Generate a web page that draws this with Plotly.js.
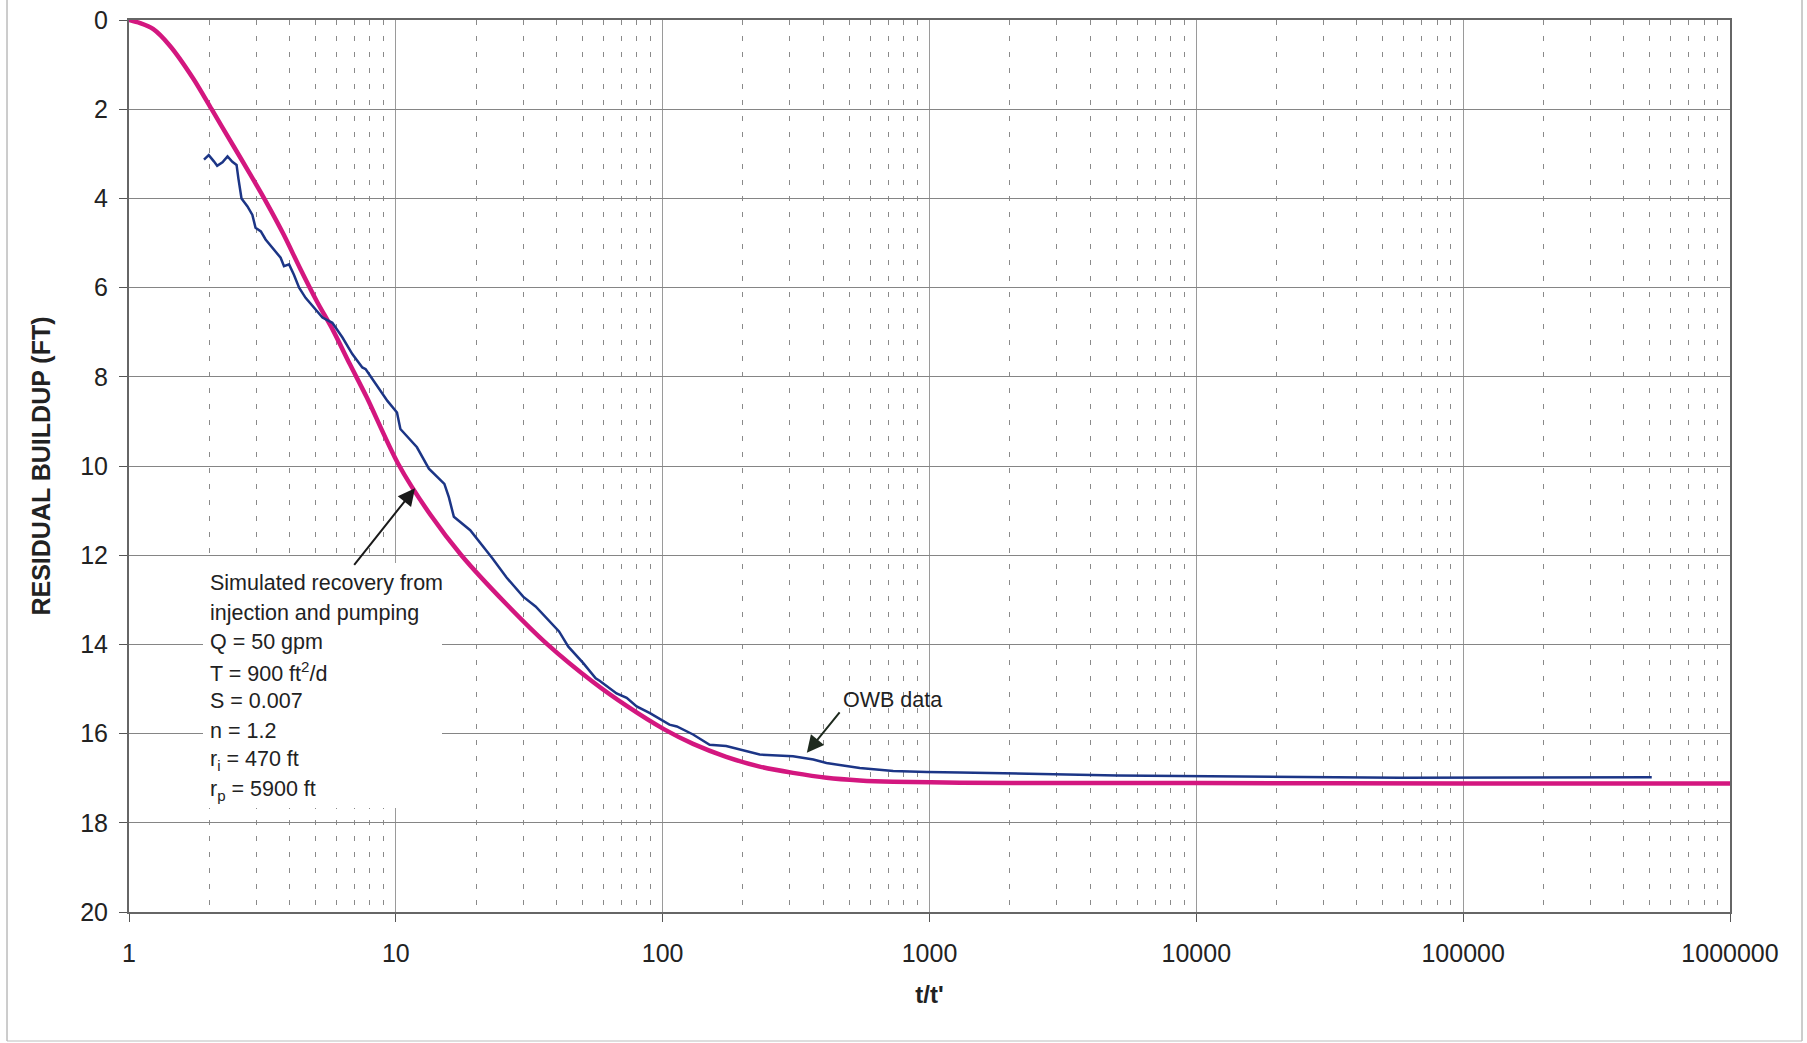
<!DOCTYPE html>
<html>
<head>
<meta charset="utf-8">
<script src="https://cdn.plot.ly/plotly-3.0.1.min.js"></script>
<style>
  html, body { margin: 0; padding: 0; background: #ffffff; }
  #chart { width: 1807px; height: 1043px; }
</style>
</head>
<body>
<div id="chart"></div>
<script>
// ---- Simulated recovery (magenta curve) ----
var simT = [1, 1.1, 1.23, 1.42, 1.74, 2.04, 2.46, 2.84, 3.28, 3.79, 4.37, 5.05, 5.83, 6.73, 7.78, 10.2, 13.5, 17.6, 26, 37, 55, 73.3, 101, 130, 173, 231, 308, 411, 548, 731, 1300, 3000, 10000, 100000, 1000000];
var simRes = [0, 0.07, 0.2, 0.57, 1.31, 2.0, 2.82, 3.45, 4.1, 4.8, 5.56, 6.30, 6.97, 7.72, 8.46, 9.95, 11.1, 12.0, 13.1, 14.0, 14.85, 15.38, 15.9, 16.23, 16.52, 16.74, 16.88, 16.99, 17.05, 17.08, 17.10, 17.11, 17.11, 17.12, 17.12];

// ---- OWB data (blue curve) ----
var owbT = [1.91, 1.99, 2.08, 2.14, 2.24, 2.34, 2.44, 2.53, 2.57, 2.64, 2.78, 2.90, 2.98, 3.12, 3.25, 3.44, 3.70, 3.81, 3.98, 4.15, 4.34, 4.59, 4.94, 5.31, 5.78, 6.31, 6.87, 7.49, 7.71, 8.41, 9.3, 10.1, 10.4, 12.0, 13.3, 15.2, 15.8, 16.5, 19.0, 23.0, 26.0, 30.0, 33.4, 40.9, 44.3, 50.4, 56.1, 58.2, 67.2, 73.3, 79.9, 89.6, 106, 113, 130, 150, 173, 231, 308, 367, 411, 548, 731, 976, 1300, 5040, 58000, 509000];
var owbRes = [3.13, 3.03, 3.17, 3.27, 3.19, 3.06, 3.18, 3.25, 3.55, 4.0, 4.18, 4.37, 4.66, 4.74, 4.92, 5.11, 5.33, 5.52, 5.48, 5.71, 6.0, 6.23, 6.45, 6.67, 6.79, 7.12, 7.49, 7.79, 7.83, 8.16, 8.54, 8.80, 9.17, 9.58, 10.06, 10.4, 10.7, 11.14, 11.44, 12.07, 12.5, 12.93, 13.15, 13.71, 14.05, 14.42, 14.76, 14.82, 15.1, 15.2, 15.39, 15.54, 15.80, 15.84, 16.02, 16.25, 16.28, 16.47, 16.51, 16.58, 16.66, 16.77, 16.84, 16.86, 16.87, 16.94, 16.99, 16.98];

// ---- Axis ticks ----
var xTickVals = [1, 10, 100, 1000, 10000, 100000, 1000000];
var xTickText = ['1', '10', '100', '1000', '10000', '100000', '1000000'];
var yTickVals = [0, 2, 4, 6, 8, 10, 12, 14, 16, 18, 20];

// ---- Text ----
var noteLines = [
  'Simulated recovery from',
  'injection and pumping',
  'Q = 50 gpm',
  'T = 900 ft<sup>2</sup>/d',
  'S = 0.007',
  'n = 1.2',
  'r<sub>i</sub> = 470 ft',
  'r<sub>p</sub> = 5900 ft'
];
var owbLabel = 'OWB data';

var FONT = '"Liberation Sans", Arial, Helvetica, sans-serif';

var traces = [
  {
    x: simT, y: simRes, type: 'scatter', mode: 'lines',
    line: { color: '#d3177f', width: 4.5, shape: 'spline', smoothing: 0.8 },
    hoverinfo: 'skip', showlegend: false
  },
  {
    x: owbT, y: owbRes, type: 'scatter', mode: 'lines',
    line: { color: '#1c3586', width: 2.5 },
    hoverinfo: 'skip', showlegend: false
  }
];

// plot geometry helpers (paper units)
var plotTopPx = 20, plotBotPx = 912, plotLeftPx = 129, plotRightPx = 1730;
function py(px) { return 1 - (px - plotTopPx) / (plotBotPx - plotTopPx); }
function pxX(px) { return (px - plotLeftPx) / (plotRightPx - plotLeftPx); }

var annotations = [];
// white box behind the parameter text (hides grid)
annotations.push({
  xref: 'paper', yref: 'paper', x: pxX(322.5), y: py(685.5),
  xanchor: 'center', yanchor: 'middle', showarrow: false,
  text: ' ', width: 239, height: 245, bgcolor: '#ffffff', borderpad: 0, borderwidth: 0
});
var lineY = [583, 612.5, 642, 671.5, 701, 730.5, 760, 790];
for (var i = 0; i < noteLines.length; i++) {
  annotations.push({
    xref: 'paper', yref: 'paper', x: pxX(208), y: py(lineY[i]),
    xanchor: 'left', yanchor: 'middle', showarrow: false,
    text: noteLines[i], align: 'left',
    font: { family: FONT, size: 21.5, color: '#222' }
  });
}
// arrow to simulated curve
annotations.push({
  xref: 'x', yref: 'y', x: Math.log10(11.8), y: 10.5,
  axref: 'pixel', ayref: 'pixel', ax: -62, ay: 78,
  text: '', showarrow: true, arrowhead: 2, arrowsize: 1.7, arrowwidth: 2, arrowcolor: '#1a1a1a'
});
// OWB label + arrow
annotations.push({
  xref: 'paper', yref: 'paper', x: pxX(892), y: py(700),
  xanchor: 'center', yanchor: 'middle', showarrow: false,
  text: owbLabel, font: { family: FONT, size: 21.5, color: '#222' }
});
annotations.push({
  xref: 'x', yref: 'y', x: Math.log10(347), y: 16.43,
  axref: 'pixel', ayref: 'pixel', ax: 34, ay: -42,
  text: '', showarrow: true, arrowhead: 2, arrowsize: 1.7, arrowwidth: 2, arrowcolor: '#1e2a1e'
});

var shapes = [
  // page frame
  { type: 'line', xref: 'paper', yref: 'paper', x0: pxX(7), x1: pxX(7), y0: py(1041), y1: py(-5),
    line: { color: '#9a9a9a', width: 1 } },
  { type: 'line', xref: 'paper', yref: 'paper', x0: pxX(1802), x1: pxX(1802), y0: py(1041), y1: py(-5),
    line: { color: '#9a9a9a', width: 1 } },
  { type: 'line', xref: 'paper', yref: 'paper', x0: pxX(7), x1: pxX(1802), y0: py(1041), y1: py(1041),
    line: { color: '#bdbdbd', width: 1 } }
];

var layout = {
  width: 1807, height: 1043,
  paper_bgcolor: '#ffffff', plot_bgcolor: '#ffffff',
  margin: { l: plotLeftPx, r: 1807 - plotRightPx, t: plotTopPx, b: 1043 - plotBotPx, pad: 0 },
  font: { family: FONT, color: '#222' },
  showlegend: false,
  xaxis: {
    type: 'log', range: [0, 6],
    tickmode: 'array', tickvals: xTickVals, ticktext: xTickText,
    ticks: 'outside', ticklen: 8, tickcolor: '#555', tickwidth: 1,
    ticklabelstandoff: 10,
    tickfont: { family: FONT, size: 25, color: '#222' },
    showgrid: true, gridcolor: '#9a9a9a', gridwidth: 1,
    minor: { tickmode: 'linear', dtick: 'D1', showgrid: true, gridcolor: '#8a8a8a', gridwidth: 1, griddash: '5px,11px', ticks: '' },
    showline: true, linecolor: '#666', linewidth: 2, mirror: true,
    zeroline: false,
    title: { text: "<b>t/t'</b>", standoff: 20, font: { family: FONT, size: 24, color: '#222' } }
  },
  yaxis: {
    range: [20, 0], autorange: false,
    tickmode: 'array', tickvals: yTickVals,
    ticks: 'outside', ticklen: 8, tickcolor: '#555', tickwidth: 1,
    ticklabelstandoff: 6,
    tickfont: { family: FONT, size: 25, color: '#222' },
    showgrid: true, gridcolor: '#858585', gridwidth: 1,
    showline: true, linecolor: '#666', linewidth: 2, mirror: true,
    zeroline: false,
    title: { text: '<b>RESIDUAL BUILDUP (FT)</b>', standoff: 22, font: { family: FONT, size: 25, color: '#222' } }
  },
  annotations: annotations,
  shapes: shapes
};

Plotly.newPlot('chart', traces, layout, { displayModeBar: false, staticPlot: true });
</script>
</body>
</html>
